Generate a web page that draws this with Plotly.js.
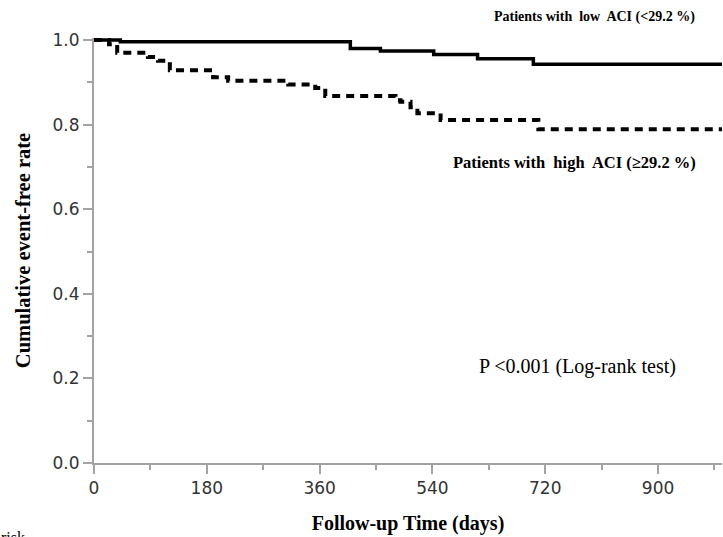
<!DOCTYPE html>
<html>
<head>
<meta charset="utf-8">
<script src="https://cdn.plot.ly/plotly-3.0.1.min.js"></script>
<style>html,body{margin:0;padding:0;background:#fff;}#chart{width:723px;height:537px;}</style>
</head>
<body>
<div id="chart"></div>
<script>
// Low ACI group (<29.2 %): step times (days) and cumulative event-free rate
var lowDays = [0, 42, 409, 457, 542, 612, 701, 1002];
var lowRate = [1.000, 0.996, 0.980, 0.974, 0.966, 0.956, 0.943, 0.943];

// High ACI group (>=29.2 %)
var highDays = [0, 24, 37, 86, 102, 121, 190, 214, 310, 353, 369, 481, 489, 505, 516, 553, 709, 1002];
var highRate = [1.000, 0.990, 0.970, 0.960, 0.951, 0.929, 0.912, 0.904, 0.895, 0.887, 0.868, 0.858, 0.854, 0.841, 0.827, 0.811, 0.789, 0.789];

var xTickVals = [0, 180, 360, 540, 720, 900];
var xTickText = ["0", "180", "360", "540", "720", "900"];
var yTickVals = [0, 0.2, 0.4, 0.6, 0.8, 1.0];
var yTickText = ["0.0", "0.2", "0.4", "0.6", "0.8", "1.0"];

var labelLow = "Patients with\u00a0 low\u00a0 ACI (<29.2 %)";
var labelHigh = "Patients with\u00a0 high\u00a0 ACI (\u226529.2 %)";
var labelP = "P\u2009<0.001 (Log-rank test)";

var serif = "Liberation Serif, Times New Roman, serif";
var axisGray = "#a3a3a3";

var traces = [
  {x: lowDays, y: lowRate, type: "scatter", mode: "lines", name: "Low ACI",
   line: {shape: "hv", color: "#000", width: 3.5}},
  {x: highDays, y: highRate, type: "scatter", mode: "lines", name: "High ACI",
   line: {shape: "hv", color: "#000", width: 4, dash: "8px,6px"}}
];

var tickFont = {family: "DejaVu Sans, Verdana, sans-serif", size: 17, color: "#333"};

var layout = {
  width: 723, height: 537,
  margin: {l: 94, r: 1, t: 38, b: 74},
  paper_bgcolor: "#fff", plot_bgcolor: "#fff",
  showlegend: false,
  xaxis: {
    range: [0, 1002], showgrid: false, zeroline: false,
    showline: true, linecolor: axisGray, linewidth: 2,
    tickmode: "array", tickvals: xTickVals, ticktext: xTickText,
    ticks: "outside", ticklen: 9, tickcolor: axisGray, tickwidth: 2,
    minor: {dtick: 90, tick0: 0, ticks: "outside", ticklen: 5, tickcolor: axisGray, tickwidth: 2},
    tickfont: tickFont,
    title: {text: "<b>Follow-up Time (days)</b>", font: {family: serif, size: 20, color: "#000"}, standoff: 19}
  },
  yaxis: {
    range: [0, 1.005], showgrid: false, zeroline: false,
    showline: true, linecolor: axisGray, linewidth: 2,
    tickmode: "array", tickvals: yTickVals, ticktext: yTickText,
    ticks: "outside", ticklen: 9, tickcolor: axisGray, tickwidth: 2,
    minor: {dtick: 0.1, tick0: 0, ticks: "outside", ticklen: 5, tickcolor: axisGray, tickwidth: 2},
    tickfont: tickFont,
    title: {text: "<b>Cumulative event-free rate</b>", font: {family: serif, size: 20.5, color: "#000"}, standoff: 16}
  },
  annotations: [
    {text: "<b>" + labelLow + "</b>", xref: "paper", yref: "paper", x: 0.797, y: 1.049,
     xanchor: "center", yanchor: "middle", showarrow: false, font: {family: serif, size: 14, color: "#000"}},
    {text: "<b>" + labelHigh + "</b>", xref: "paper", yref: "paper", x: 0.765, y: 0.708,
     xanchor: "center", yanchor: "middle", showarrow: false, font: {family: serif, size: 16.5, color: "#000"}},
    {text: labelP, xref: "paper", yref: "paper", x: 0.770, y: 0.226,
     xanchor: "center", yanchor: "middle", showarrow: false, font: {family: serif, size: 20, color: "#000"}},
    {text: "risk", xref: "paper", yref: "paper", x: -0.152, y: -0.151,
     xanchor: "left", yanchor: "top", showarrow: false, font: {family: serif, size: 16, color: "#000"}}
  ]
};

Plotly.newPlot("chart", traces, layout, {displayModeBar: false, staticPlot: true});
</script>
</body>
</html>
